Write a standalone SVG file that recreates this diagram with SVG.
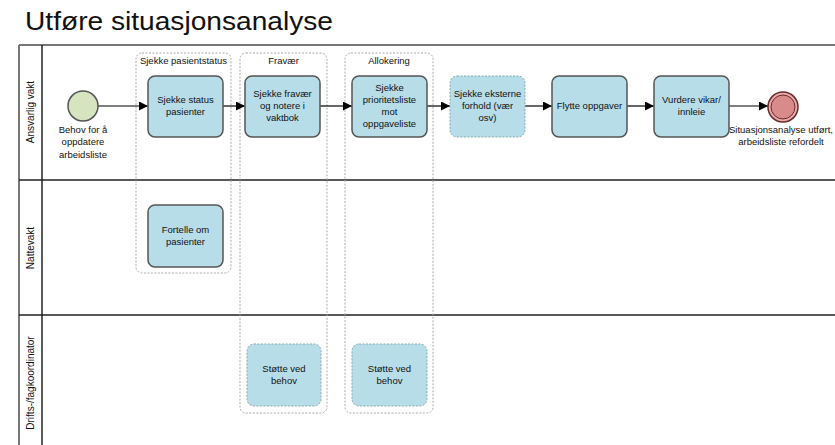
<svg xmlns="http://www.w3.org/2000/svg" width="835" height="445" viewBox="0 0 835 445">
<defs>
<marker id="arr" viewBox="0 0 10 10" refX="10" refY="5" markerWidth="9" markerHeight="9" markerUnits="userSpaceOnUse" orient="auto">
<path d="M0,0 L10,5 L0,10 z" fill="#000"/>
</marker>
<style>
text{font-family:"Liberation Sans",Arial,sans-serif;fill:#111}
.t{font-size:9.5px;text-anchor:middle}
.task{fill:#b7dde8;stroke:#555;stroke-width:1.5}
.taskd{fill:#b7dde8;stroke:#8aa;stroke-width:1;stroke-dasharray:2,1.5}
.grp{fill:none;stroke:#aaa;stroke-width:1;stroke-dasharray:2,1.5}
.lane{stroke:#222;stroke-width:1.5;fill:none}
.conn{stroke:#000;stroke-width:1.2;fill:none;marker-end:url(#arr)}
.ll{font-size:10px;text-anchor:middle}
</style>
</defs>
<rect width="835" height="445" fill="#fff"/>
<text x="25" y="30" font-size="26" textLength="308" lengthAdjust="spacingAndGlyphs" style="fill:#111">Utføre situasjonsanalyse</text>

<g id="pool">
<line x1="19" y1="45" x2="835" y2="45" stroke="#777" stroke-width="2"/>
<line x1="19" y1="45" x2="19" y2="445" stroke="#777" stroke-width="2"/>
<line class="lane" x1="42" y1="45" x2="42" y2="445"/>
<line class="lane" x1="19" y1="180" x2="835" y2="180"/>
<line class="lane" x1="19" y1="315" x2="835" y2="315"/>
<text class="ll" transform="translate(34,112) rotate(-90)">Ansvarlig vakt</text>
<text class="ll" transform="translate(34,248) rotate(-90)">Nattevakt</text>
<text class="ll" transform="translate(34,383) rotate(-90)">Drifts-/fagkoordinator</text>
</g>

<g id="grp-pasientstatus">
<rect class="grp" x="136" y="53" width="95" height="220" rx="6"/>
<text class="t" x="183.5" y="64">Sjekke pasientstatus</text>
</g>
<g id="grp-fravaer">
<rect class="grp" x="240" y="53" width="87" height="360" rx="6"/>
<text class="t" x="283.5" y="64">Fravær</text>
</g>
<g id="grp-allokering">
<rect class="grp" x="345" y="53" width="88" height="360" rx="6"/>
<text class="t" x="389" y="64">Allokering</text>
</g>

<g id="connectors">
<line class="conn" x1="98" y1="106" x2="148" y2="106"/>
<line class="conn" x1="223" y1="106" x2="245" y2="106"/>
<line class="conn" x1="320" y1="106" x2="352" y2="106"/>
<line class="conn" x1="427" y1="106" x2="450" y2="106"/>
<line class="conn" x1="525" y1="106" x2="552" y2="106"/>
<line class="conn" x1="627" y1="106" x2="654" y2="106"/>
<line class="conn" x1="729" y1="106" x2="768" y2="106"/>
</g>

<g id="start">
<circle cx="83" cy="106" r="15" fill="#d6e4bf" stroke="#555" stroke-width="1.5"/>
<text class="t" x="83" y="133">Behov for å</text>
<text class="t" x="83" y="145">oppdatere</text>
<text class="t" x="83" y="158">arbeidsliste</text>
</g>

<g id="t1">
<rect class="task" x="148" y="76" width="75" height="61" rx="7"/>
<text class="t" x="185.5" y="103">Sjekke status</text>
<text class="t" x="185.5" y="115">pasienter</text>
</g>
<g id="t2">
<rect class="task" x="245" y="76" width="75" height="61" rx="7"/>
<text class="t" x="282.5" y="97">Sjekke fravær</text>
<text class="t" x="282.5" y="109">og notere i</text>
<text class="t" x="282.5" y="121">vaktbok</text>
</g>
<g id="t3">
<rect class="task" x="352" y="76" width="75" height="61" rx="7"/>
<text class="t" x="389.5" y="91">Sjekke</text>
<text class="t" x="389.5" y="103">prioritetsliste</text>
<text class="t" x="389.5" y="115">mot</text>
<text class="t" x="389.5" y="127">oppgaveliste</text>
</g>
<g id="t4">
<rect class="taskd" x="450" y="76" width="75" height="61" rx="7"/>
<text class="t" x="487.5" y="97">Sjekke eksterne</text>
<text class="t" x="487.5" y="109">forhold (vær</text>
<text class="t" x="487.5" y="121">osv)</text>
</g>
<g id="t5">
<rect class="task" x="552" y="76" width="75" height="61" rx="7"/>
<text class="t" x="589.5" y="109">Flytte oppgaver</text>
</g>
<g id="t6">
<rect class="task" x="654" y="76" width="75" height="61" rx="7"/>
<text class="t" x="691.5" y="103">Vurdere vikar/</text>
<text class="t" x="691.5" y="115">innleie</text>
</g>
<g id="end">
<circle cx="783" cy="107" r="15" fill="#e8aaaa" stroke="#6b2a2a" stroke-width="1.5"/>
<circle cx="783" cy="107" r="12" fill="#d98a8a" stroke="#6b2a2a" stroke-width="1"/>
<text class="t" x="781" y="133">Situasjonsanalyse utført,</text>
<text class="t" x="781" y="145">arbeidsliste refordelt</text>
</g>

<g id="t7">
<rect class="task" x="148" y="205" width="75" height="62" rx="7"/>
<text class="t" x="185.5" y="233">Fortelle om</text>
<text class="t" x="185.5" y="245">pasienter</text>
</g>
<g id="t8">
<rect class="taskd" x="247" y="344" width="74" height="62" rx="7"/>
<text class="t" x="284" y="372">Støtte ved</text>
<text class="t" x="284" y="384">behov</text>
</g>
<g id="t9">
<rect class="taskd" x="352" y="344" width="75" height="62" rx="7"/>
<text class="t" x="389.5" y="372">Støtte ved</text>
<text class="t" x="389.5" y="384">behov</text>
</g>
</svg>
